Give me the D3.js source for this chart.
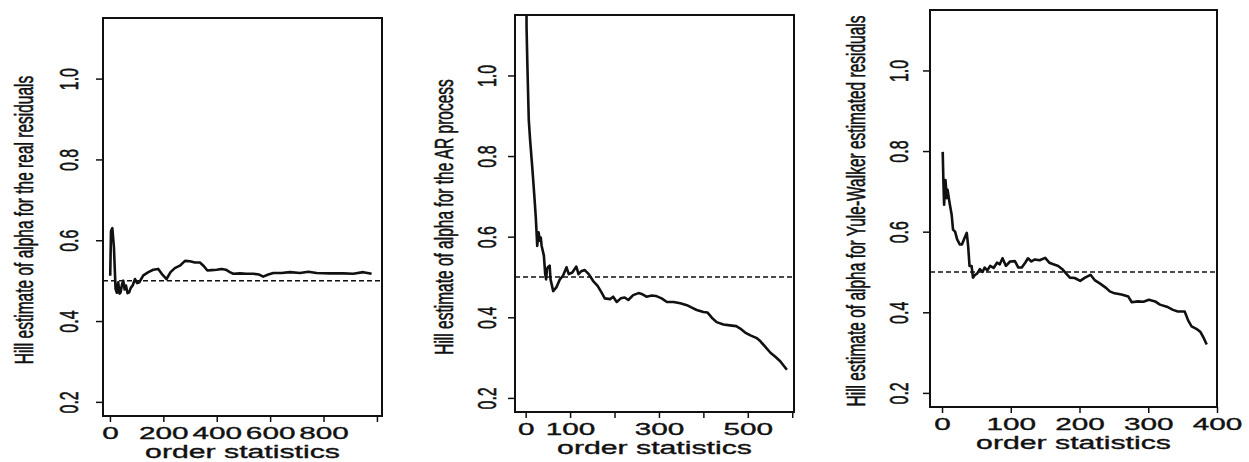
<!DOCTYPE html>
<html>
<head>
<meta charset="utf-8">
<script src="https://cdn.jsdelivr.net/npm/d3@7"></script>
<style>
body { margin: 0; background: #fff; }
svg { display: block; }
text { font-family: "Liberation Sans", Arial, Helvetica, sans-serif; fill: #111; stroke: #111; stroke-width: 0.35px; }
</style>
</head>
<body>
<svg id="chart" width="1249" height="462"></svg>
<script>
// Hill estimates [order statistic k, alpha estimate]
const hillReal = [
  [1,0.512],[4,0.623],[9,0.630],[15,0.582],[21,0.480],[26,0.470],[31,0.496],[36,0.468],
  [40,0.471],[45,0.490],[50,0.500],[55,0.478],[60,0.488],[66,0.469],[72,0.471],[78,0.482],
  [85,0.488],[94,0.504],[102,0.494],[110,0.496],[125,0.513],[144,0.521],[162,0.527],[181,0.529],
  [194,0.517],[212,0.504],[227,0.521],[243,0.531],[262,0.537],[281,0.549],[300,0.548],[318,0.545],
  [337,0.545],[350,0.537],[365,0.525],[380,0.526],[400,0.527],[418,0.529],[434,0.527],[449,0.521],
  [462,0.517],[487,0.518],[512,0.517],[537,0.517],[559,0.515],[574,0.510],[593,0.515],[612,0.519],
  [643,0.519],[674,0.521],[712,0.519],[743,0.522],[774,0.519],[824,0.518],[874,0.518],[911,0.517],
  [949,0.521],[980,0.517]
];

const hillAR = [
  [1,1.50],[2,1.12],[4,1.02],[7,0.89],[10,0.84],[15,0.77],[20,0.694],[23,0.644],[26,0.577],
  [29,0.611],[32,0.590],[34,0.598],[36,0.577],[41,0.553],[44,0.507],[46,0.494],[48,0.520],
  [50,0.524],[54,0.528],[56,0.494],[62,0.465],[69,0.474],[77,0.494],[84,0.503],[92,0.524],
  [97,0.507],[105,0.511],[114,0.526],[119,0.507],[126,0.515],[133,0.517],[142,0.507],[152,0.490],
  [162,0.478],[171,0.461],[178,0.447],[190,0.445],[197,0.451],[205,0.438],[214,0.447],[223,0.449],
  [231,0.443],[242,0.455],[254,0.460],[263,0.457],[272,0.451],[284,0.454],[293,0.453],[306,0.447],
  [318,0.438],[333,0.438],[348,0.435],[363,0.430],[374,0.424],[385,0.418],[400,0.413],[409,0.412],
  [419,0.399],[430,0.388],[445,0.382],[460,0.380],[474,0.378],[483,0.372],[494,0.362],[506,0.355],
  [519,0.349],[528,0.341],[539,0.327],[551,0.312],[562,0.302],[573,0.291],[588,0.270]
];

const hillYW = [
  [1,0.798],[2,0.724],[3,0.667],[5,0.728],[7,0.683],[8,0.704],[11,0.671],[14,0.642],[16,0.605],
  [19,0.600],[22,0.581],[26,0.568],[29,0.568],[32,0.581],[36,0.597],[38,0.564],[40,0.515],
  [43,0.515],[45,0.486],[48,0.493],[51,0.496],[55,0.507],[59,0.500],[62,0.511],[66,0.504],
  [70,0.515],[75,0.510],[80,0.523],[84,0.519],[88,0.534],[93,0.515],[99,0.526],[106,0.527],
  [111,0.511],[116,0.511],[121,0.523],[125,0.534],[130,0.526],[135,0.531],[142,0.529],[150,0.535],
  [156,0.523],[162,0.519],[169,0.515],[175,0.507],[179,0.499],[186,0.486],[193,0.485],[201,0.478],
  [208,0.486],[216,0.493],[222,0.480],[230,0.471],[239,0.460],[244,0.452],[251,0.447],[261,0.444],
  [271,0.439],[276,0.425],[285,0.427],[293,0.426],[301,0.431],[310,0.427],[317,0.419],[327,0.414],
  [336,0.406],[343,0.402],[353,0.402],[358,0.380],[363,0.365],[370,0.359],[376,0.351],[381,0.335],
  [385,0.320]
];

const yTicks = [0.2, 0.4, 0.6, 0.8, 1.0];
const yTickLabels = ['0.2', '0.4', '0.6', '0.8', '1.0'];
const realTicks = [0, 200, 400, 600, 800, 1000];
const realTickLabels = ['0', '200', '400', '600', '800', ''];
const arTicks = [0, 100, 200, 300, 400, 500, 600];
const arTickLabels = ['0', '100', '', '300', '', '500', ''];
const ywTicks = [0, 100, 200, 300, 400];
const ywTickLabels = ['0', '100', '200', '300', '400'];
const yLabels = [
  'Hill estimate of alpha for the real residuals',
  'Hill estimate of alpha for the AR process',
  'Hill estimate of alpha for Yule-Walker estimated residuals'
];
const xLabel = 'order statistics';
const refAlpha = 0.5;
const yDomain = [0.165, 1.15];

// layout of the three panels (pixel boxes + x ranges)
const panels = [
  { data: hillReal, ticks: realTicks, tickLabels: realTickLabels, yLabel: yLabels[0],
    xDomain: [-26, 1019], l: 103, r: 382, t: 18, b: 416, tickGap: 25, labX: 33, labY: 220 },
  { data: hillAR, ticks: arTicks, tickLabels: arTickLabels, yLabel: yLabels[1],
    xDomain: [-24, 604], l: 515, r: 794, t: 15, b: 412, tickGap: 19, labX: 453, labY: 217 },
  { data: hillYW, ticks: ywTicks, tickLabels: ywTickLabels, yLabel: yLabels[2],
    xDomain: [-17.5, 400], l: 930, r: 1217, t: 10, b: 407, tickGap: 22, labX: 865, labY: 211 }
];

const svg = d3.select('#chart');
const ink = '#111';

panels.forEach((p, i) => {
  const x = d3.scaleLinear().domain(p.xDomain).range([p.l, p.r]);
  const y = d3.scaleLinear().domain(yDomain).range([p.b, p.t]);
  const g = svg.append('g');

  const clipId = 'clip' + i;
  svg.append('clipPath').attr('id', clipId)
    .append('rect')
    .attr('x', p.l).attr('y', p.t)
    .attr('width', p.r - p.l).attr('height', p.b - p.t);

  // reference line at alpha = 0.5
  g.append('line')
    .attr('x1', p.l).attr('x2', p.r)
    .attr('y1', y(refAlpha)).attr('y2', y(refAlpha))
    .attr('stroke', ink).attr('stroke-width', 1.5)
    .attr('stroke-dasharray', '5,3');

  const line = d3.line().x(d => x(d[0])).y(d => y(d[1]));
  g.append('path')
    .datum(p.data)
    .attr('clip-path', `url(#${clipId})`)
    .attr('d', line)
    .attr('fill', 'none')
    .attr('stroke', ink)
    .attr('stroke-width', 2.6)
    .attr('stroke-linejoin', 'round');

  // box
  g.append('rect')
    .attr('x', p.l).attr('y', p.t)
    .attr('width', p.r - p.l).attr('height', p.b - p.t)
    .attr('fill', 'none').attr('stroke', ink).attr('stroke-width', 2);

  // x axis
  const xAxis = d3.axisBottom(x)
    .tickValues(p.ticks)
    .tickFormat((d, j) => p.tickLabels[j])
    .tickSize(6).tickSizeOuter(0);
  const gx = g.append('g').attr('transform', `translate(0,${p.b})`).call(xAxis);
  gx.select('.domain').remove();
  gx.selectAll('.tick line').attr('stroke', ink).attr('stroke-width', 1.5);
  gx.selectAll('.tick text')
    .attr('y', null).attr('dy', null)
    .attr('font-size', 16.5)
    .attr('fill', ink)
    .attr('transform', 'translate(0,23) scale(1.8,1)');

  // y axis
  const yAxis = d3.axisLeft(y)
    .tickValues(yTicks)
    .tickFormat((d, j) => yTickLabels[j])
    .tickSize(7).tickSizeOuter(0);
  const gy = g.append('g').attr('transform', `translate(${p.l},0)`).call(yAxis);
  gy.select('.domain').remove();
  gy.selectAll('.tick line').attr('stroke', ink).attr('stroke-width', 1.5);
  gy.selectAll('.tick text')
    .attr('x', null).attr('dy', null)
    .attr('text-anchor', 'middle')
    .attr('font-size', 16)
    .attr('fill', ink)
    .attr('transform', `translate(${-p.tickGap},0) scale(1.65,1) rotate(-90)`);

  // axis titles
  g.append('text')
    .attr('text-anchor', 'middle')
    .attr('font-size', 18)
    .attr('transform', `translate(${(p.l + p.r) / 2},${p.b + 42}) scale(1.68,1)`)
    .text(xLabel);

  g.append('text')
    .attr('text-anchor', 'middle')
    .attr('font-size', 15.5)
    .attr('transform', `translate(${p.labX},${p.labY}) scale(1.62,1) rotate(-90)`)
    .text(p.yLabel);
});
</script>
</body>
</html>
